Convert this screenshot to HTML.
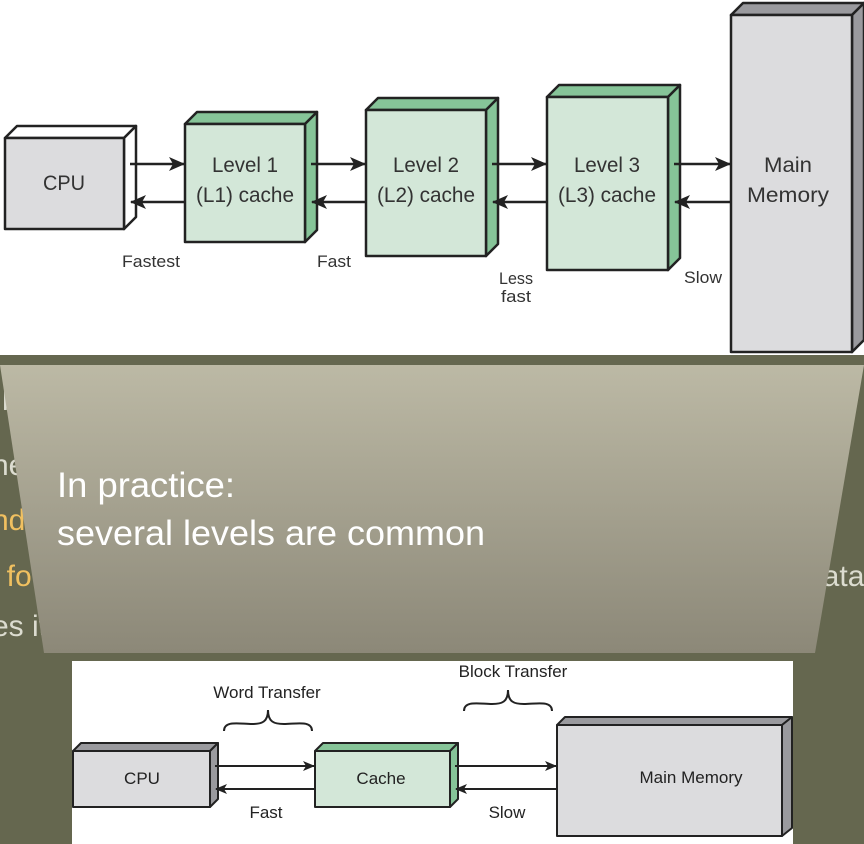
<!DOCTYPE html>
<html><head><meta charset="utf-8"><style>
html,body{margin:0;padding:0;width:864px;height:844px;overflow:hidden;background:#65674f;font-family:"Liberation Sans",sans-serif}
</style></head><body>
<svg width="864" height="844" viewBox="0 0 864 844" xmlns="http://www.w3.org/2000/svg" style="position:absolute;left:0;top:0">
<defs>
<linearGradient id="g" x1="0" y1="0" x2="0" y2="1"><stop offset="0" stop-color="#bcb9a5"/><stop offset="1" stop-color="#8c8878"/></linearGradient>
<marker id="a" markerWidth="16" markerHeight="14" refX="15" refY="7" orient="auto" markerUnits="userSpaceOnUse"><path d="M0,0 L16,7 L0,14 L4,7z" fill="#222"/></marker>
<marker id="b" markerWidth="12" markerHeight="10" refX="11" refY="5" orient="auto" markerUnits="userSpaceOnUse"><path d="M0,0 L12,5 L0,10 L3,5z" fill="#222"/></marker>
</defs>
<g font-size="30" fill="#dcdcd0">
<text x="2" y="410">l</text>
<text x="-8" y="475">ne</text>
<text x="-8" y="530" fill="#f0c060">nd</text>
<text x="-10" y="586" fill="#f0c060">t fou</text>
<text x="-8" y="636">es it</text>
<text x="806" y="586">data</text>
</g>
<rect x="0" y="0" width="864" height="355" fill="#fff"/>
<g stroke="#222" stroke-width="2.5" stroke-linejoin="round">
<polygon points="5,138 17,126 136,126 124,138" fill="#fff"/>
<polygon points="124,138 136,126 136,217 124,229" fill="#fff"/>
<rect x="5" y="138" width="119" height="91" fill="#dcdcde"/>
<polygon points="185,124 197,112 317,112 305,124" fill="#86c498"/>
<polygon points="305,124 317,112 317,230 305,242" fill="#86c498"/>
<rect x="185" y="124" width="120" height="118" fill="#d3e7d8"/>
<polygon points="366,110 378,98 498,98 486,110" fill="#86c498"/>
<polygon points="486,110 498,98 498,244 486,256" fill="#86c498"/>
<rect x="366" y="110" width="120" height="146" fill="#d3e7d8"/>
<polygon points="547,97 559,85 680,85 668,97" fill="#86c498"/>
<polygon points="668,97 680,85 680,258 668,270" fill="#86c498"/>
<rect x="547" y="97" width="121" height="173" fill="#d3e7d8"/>
<polygon points="731,15 743,3 864,3 852,15" fill="#9a9a9e"/>
<polygon points="852,15 864,3 864,340 852,352" fill="#9a9a9e"/>
<rect x="731" y="15" width="121" height="337" fill="#dcdcde"/>
</g>
<g stroke="#222" stroke-width="2.5" fill="none">
<line x1="130" y1="164" x2="184" y2="164" marker-end="url(#a)"/>
<line x1="185" y1="202" x2="131" y2="202" marker-end="url(#a)"/>
<line x1="311" y1="164" x2="365" y2="164" marker-end="url(#a)"/>
<line x1="366" y1="202" x2="312" y2="202" marker-end="url(#a)"/>
<line x1="492" y1="164" x2="546" y2="164" marker-end="url(#a)"/>
<line x1="547" y1="202" x2="493" y2="202" marker-end="url(#a)"/>
<line x1="674" y1="164" x2="730" y2="164" marker-end="url(#a)"/>
<line x1="731" y1="202" x2="675" y2="202" marker-end="url(#a)"/>
</g>
<g fill="#333" text-anchor="middle">
<text x="64" y="190" font-size="21" textLength="42" lengthAdjust="spacingAndGlyphs">CPU</text>
<text x="245" y="172" font-size="21" textLength="66" lengthAdjust="spacingAndGlyphs">Level 1</text><text x="245" y="202" font-size="21" textLength="98" lengthAdjust="spacingAndGlyphs">(L1) cache</text>
<text x="426" y="172" font-size="21" textLength="66" lengthAdjust="spacingAndGlyphs">Level 2</text><text x="426" y="202" font-size="21" textLength="98" lengthAdjust="spacingAndGlyphs">(L2) cache</text>
<text x="607" y="172" font-size="21" textLength="66" lengthAdjust="spacingAndGlyphs">Level 3</text><text x="607" y="202" font-size="21" textLength="98" lengthAdjust="spacingAndGlyphs">(L3) cache</text>
<text x="788" y="172" font-size="21" textLength="48" lengthAdjust="spacingAndGlyphs">Main</text><text x="788" y="202" font-size="21" textLength="82" lengthAdjust="spacingAndGlyphs">Memory</text>
<text x="151" y="267" font-size="17" textLength="58" lengthAdjust="spacingAndGlyphs">Fastest</text>
<text x="334" y="267" font-size="17" textLength="34" lengthAdjust="spacingAndGlyphs">Fast</text>
<text x="516" y="284" font-size="17" textLength="34" lengthAdjust="spacingAndGlyphs">Less</text><text x="516" y="302" font-size="17" textLength="30" lengthAdjust="spacingAndGlyphs">fast</text>
<text x="703" y="283" font-size="17" textLength="38" lengthAdjust="spacingAndGlyphs">Slow</text>
</g>
<polygon points="0,365 864,365 815,653 44,653" fill="url(#g)"/>
<g font-size="35" fill="#fff">
<text x="57" y="497" textLength="178" lengthAdjust="spacingAndGlyphs">In practice:</text>
<text x="57" y="545" textLength="428" lengthAdjust="spacingAndGlyphs">several levels are common</text>
</g>
<rect x="72" y="661" width="721" height="183" fill="#fff"/>
<g stroke="#222" stroke-width="2" stroke-linejoin="round">
<polygon points="73,751 81,743 218,743 210,751" fill="#9a9a9e"/>
<polygon points="210,751 218,743 218,799 210,807" fill="#9a9a9e"/>
<rect x="73" y="751" width="137" height="56" fill="#dcdcde"/>
<polygon points="315,751 323,743 458,743 450,751" fill="#86c498"/>
<polygon points="450,751 458,743 458,799 450,807" fill="#86c498"/>
<rect x="315" y="751" width="135" height="56" fill="#d3e7d8"/>
<polygon points="557,725 565,717 792,717 782,725" fill="#9a9a9e"/>
<polygon points="782,725 792,717 792,828 782,836" fill="#9a9a9e"/>
<rect x="557" y="725" width="225" height="111" fill="#dcdcde"/>
</g>
<g stroke="#222" stroke-width="2" fill="none">
<line x1="215" y1="766" x2="314" y2="766" marker-end="url(#b)"/>
<line x1="315" y1="789" x2="216" y2="789" marker-end="url(#b)"/>
<line x1="455" y1="766" x2="556" y2="766" marker-end="url(#b)"/>
<line x1="557" y1="789" x2="456" y2="789" marker-end="url(#b)"/>
<path d="M224,731 C224,720 240,724 252,724 C262,724 268,722 268,710 C268,722 274,724 284,724 C296,724 312,720 312,731"/>
<path d="M464,711 C464,700 480,704 492,704 C502,704 508,702 508,690 C508,702 514,704 524,704 C536,704 552,700 552,711"/>
</g>
<g fill="#222" font-size="17" text-anchor="middle">
<text x="142" y="784">CPU</text>
<text x="381" y="784">Cache</text>
<text x="691" y="783">Main Memory</text>
<text x="266" y="818">Fast</text>
<text x="507" y="818">Slow</text>
<text x="267" y="698">Word Transfer</text>
<text x="513" y="677">Block Transfer</text>
</g>
</svg>
</body></html>
